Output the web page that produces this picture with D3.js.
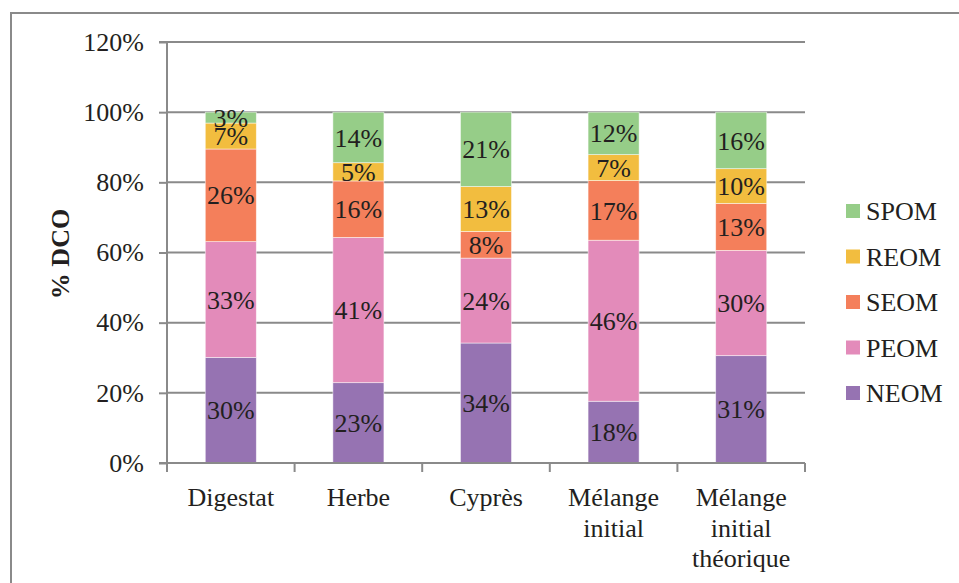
<!DOCTYPE html>
<html>
<head>
<meta charset="utf-8">
<script src="https://cdn.jsdelivr.net/npm/d3@7"></script>
<style>
  html, body { margin: 0; padding: 0; background: #fff; }
  svg { display: block; }
</style>
</head>
<body>
<svg id="chart" width="959" height="583"></svg>
<script>
// ---- Data ----
const categories = ["Digestat", "Herbe", "Cyprès", "Mélange initial", "Mélange initial théorique"];
const categoryLines = [["Digestat"], ["Herbe"], ["Cyprès"], ["Mélange", "initial"], ["Mélange", "initial", "théorique"]];
const seriesNames = ["NEOM", "PEOM", "SEOM", "REOM", "SPOM"];
const NEOM = [0.301, 0.229, 0.342, 0.176, 0.306];
const PEOM = [0.330, 0.414, 0.242, 0.459, 0.300];
const SEOM = [0.264, 0.161, 0.076, 0.170, 0.134];
const REOM = [0.074, 0.052, 0.128, 0.074, 0.099];
const SPOM = [0.031, 0.144, 0.212, 0.121, 0.161];
const seriesValues = [NEOM, PEOM, SEOM, REOM, SPOM];
const yTicks = [0, 0.2, 0.4, 0.6, 0.8, 1.0, 1.2];
const yTitle = "% DCO";
const colors = {NEOM: "#9673b2", PEOM: "#e38bba", SEOM: "#f47f5b", REOM: "#f2bd3f", SPOM: "#96cd88"};

(function () {
// pick an installed serif font
const ctx = document.createElement("canvas").getContext("2d");
const probe = "Mélange initial théorique 120% NEOM";
function w(f) { ctx.font = "40px " + f; return ctx.measureText(probe).width; }
const candidates = ["Liberation Serif", "Tinos", "Times New Roman", "Noto Serif", "DejaVu Serif"];
let chosen = "serif", size = 26;
for (const c of candidates) {
  const a = w("'" + c + "', monospace"), b = w("monospace");
  const a2 = w("'" + c + "', sans-serif"), b2 = w("sans-serif");
  if (Math.abs(a - b) > 0.5 || Math.abs(a2 - b2) > 0.5) { chosen = c; break; }
}
if (chosen === "DejaVu Serif") size = 22.5;
const FONT = "'" + chosen + "', serif";

const svg = d3.select("#chart");
const axisColor = "#8a8a8a";
const textColor = "#231f20";

function styleText(sel) {
  return sel.attr("font-family", FONT).style("font-family", FONT).attr("font-size", size).style("font-size", size + "px").attr("fill", textColor);
}

// Outer border
svg.append("rect").attr("x", 11).attr("y", 13).attr("width", 1000).attr("height", 700)
  .attr("fill", "none").attr("stroke", axisColor).attr("stroke-width", 2);

const pL = 167, pR = 805, pT = 42, pB = 463;
const x = d3.scaleBand().domain(categories).range([pL, pR]).paddingInner(0.6).paddingOuter(0.3);
const y = d3.scaleLinear().domain([0, 1.2]).range([pB, pT]);

// Gridlines
svg.append("g").selectAll("line").data(yTicks.filter(t => t > 0)).join("line")
  .attr("x1", pL).attr("x2", pR).attr("y1", d => y(d)).attr("y2", d => y(d))
  .attr("stroke", axisColor).attr("stroke-width", 2);

// Stacked bars
const table = categories.map((c, i) => {
  const o = {cat: c};
  seriesNames.forEach((s, j) => o[s] = seriesValues[j][i]);
  return o;
});
const stack = d3.stack().keys(seriesNames)(table);
const fmt = d3.format(".0%");

const gBars = svg.append("g");
stack.forEach(layer => {
  const key = layer.key;
  gBars.append("g").selectAll("rect").data(layer).join("rect")
    .attr("x", d => x(d.data.cat))
    .attr("width", x.bandwidth())
    .attr("y", d => y(d[1]))
    .attr("height", d => y(d[0]) - y(d[1]))
    .attr("fill", colors[key])
    .attr("stroke", "#ffffff").attr("stroke-opacity", 0.6).attr("stroke-width", 0.8);
});
stack.forEach(layer => {
  const key = layer.key;
  styleText(gBars.append("g").selectAll("text").data(layer).join("text"))
    .attr("x", d => x(d.data.cat) + x.bandwidth() / 2)
    .attr("y", d => (y(d[0]) + y(d[1])) / 2)
    .attr("dy", "0.35em")
    .attr("text-anchor", "middle")
    .text(d => fmt(d.data[key]));
});

// Y axis
const yAxis = d3.axisLeft(y).tickValues(yTicks).tickFormat(d3.format(".0%")).tickSize(8).tickPadding(15);
const gy = svg.append("g").attr("transform", `translate(${pL},0)`).call(yAxis);
gy.attr("font-family", FONT).attr("font-size", size);
gy.select(".domain").attr("stroke", axisColor).attr("stroke-width", 2).attr("d", `M-8,${pT}H0V${pB}H-8`);
gy.selectAll(".tick line").attr("stroke", axisColor).attr("stroke-width", 2);
styleText(gy.selectAll(".tick text"));

// X axis line and boundary ticks
svg.append("line").attr("x1", pL).attr("x2", pR).attr("y1", pB).attr("y2", pB)
  .attr("stroke", axisColor).attr("stroke-width", 2);
const step = x.step();
const boundaries = categories.map(c => x(c) - (step - x.bandwidth()) / 2).concat([pR]);
svg.append("g").selectAll("line").data(boundaries).join("line")
  .attr("x1", d => d).attr("x2", d => d).attr("y1", pB).attr("y2", pB + 9)
  .attr("stroke", axisColor).attr("stroke-width", 2);

// Category labels
const gx = svg.append("g");
categories.forEach((c, i) => {
  const cx = x(c) + x.bandwidth() / 2;
  const t = styleText(gx.append("text"))
    .attr("x", cx)
    .attr("y", 506)
    .attr("text-anchor", "middle");
  categoryLines[i].forEach((ln, k) => {
    t.append("tspan").attr("x", cx).attr("dy", k === 0 ? 0 : 30.5).text(ln);
  });
});

// Y title
styleText(svg.append("text"))
  .attr("transform", `translate(69,254) rotate(-90)`)
  .attr("text-anchor", "middle")
  .attr("font-weight", "bold").style("font-weight", "bold")
  .text(yTitle);

// Legend
const legendOrder = seriesNames.slice().reverse();
const lg = svg.append("g");
legendOrder.forEach((s, i) => {
  const cy = 211 + i * 45.5;
  lg.append("rect").attr("x", 846).attr("y", cy - 7).attr("width", 14).attr("height", 14).attr("fill", colors[s]);
  styleText(lg.append("text")).attr("x", 866).attr("y", cy).attr("dy", "0.35em").text(s);
});
})();
</script>
</body>
</html>
